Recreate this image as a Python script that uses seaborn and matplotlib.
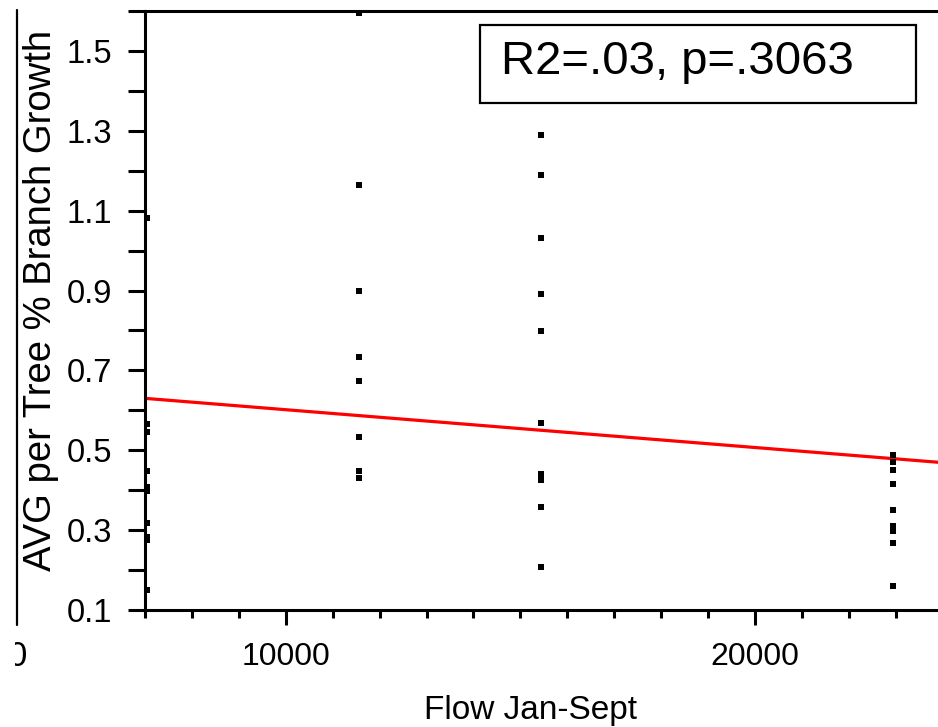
import matplotlib
matplotlib.use("Agg")
import matplotlib.pyplot as plt
import seaborn as sns
import pandas as pd
import numpy as np
from matplotlib.lines import Line2D
from matplotlib.patches import Rectangle
from matplotlib.transforms import Bbox, TransformedBbox
from matplotlib.ticker import MultipleLocator, FixedLocator

# ---- data ----
flow_col1 = 7040
flow_col2 = 11556
flow_col3 = 15437
flow_col4 = 22950
growth_col1 = [1.081, 0.567, 0.546, 0.448, 0.409, 0.398, 0.319, 0.283, 0.275, 0.151]
growth_col2 = [1.596, 1.164, 0.899, 0.734, 0.674, 0.533, 0.447, 0.430]
growth_col3 = [1.290, 1.189, 1.032, 0.891, 0.799, 0.568, 0.440, 0.425, 0.358, 0.208]
growth_col4 = [0.487, 0.471, 0.451, 0.416, 0.350, 0.310, 0.299, 0.267, 0.159]
fit_x = [7000, 23900]
fit_y = [0.630, 0.470]
stat_text = "R2=.03, p=.3063"
x_label = "Flow Jan-Sept"
y_label = "AVG per Tree % Branch Growth"
y_tick_values = [0.1, 0.3, 0.5, 0.7, 0.9, 1.1, 1.3, 1.5]
x_tick_values = [10000, 20000]

flows = ([flow_col1] * len(growth_col1) + [flow_col2] * len(growth_col2)
         + [flow_col3] * len(growth_col3) + [flow_col4] * len(growth_col4))
growth = growth_col1 + growth_col2 + growth_col3 + growth_col4
df = pd.DataFrame({"flow": flows, "growth": growth})
fit_df = pd.DataFrame({"flow": fit_x, "growth": fit_y})

sns.set_theme(style="white")
plt.rcParams["font.family"] = ["Liberation Sans", "DejaVu Sans"]
for key in ["text.color", "axes.labelcolor", "xtick.color", "ytick.color",
            "axes.edgecolor", "xtick.labelcolor", "ytick.labelcolor"]:
    plt.rcParams[key] = "black"

W, H = 938, 727
fig = plt.figure(figsize=(W / 100, H / 100), dpi=100)
ax = fig.add_axes([145 / W, 1 - 610 / H, 1 - 145 / W, (610 - 11) / H])

sns.lineplot(data=fit_df, x="flow", y="growth", ax=ax, color="#ff0000",
             linewidth=2.3, zorder=2)
sns.scatterplot(data=df, x="flow", y="growth", ax=ax, marker="s", s=18,
                color="black", linewidth=0, zorder=3, clip_on=False)

ax.set_xlim(7000, 23900)
ax.set_ylim(0.1, 1.6)

ax.xaxis.set_major_locator(FixedLocator(x_tick_values))
ax.xaxis.set_minor_locator(MultipleLocator(1000))
ax.yaxis.set_major_locator(FixedLocator(y_tick_values))
ax.yaxis.set_minor_locator(FixedLocator([0.2, 0.4, 0.6, 0.8, 1.0, 1.2, 1.4, 1.6]))
ax.set_yticklabels([f"{v:.1f}" for v in y_tick_values])
ax.set_xticklabels([str(v) for v in x_tick_values])

for side in ["left", "bottom", "top"]:
    ax.spines[side].set_visible(True)
    ax.spines[side].set_linewidth(2.2)
    ax.spines[side].set_color("black")
ax.spines["right"].set_visible(False)

ax.tick_params(axis="y", which="both", direction="out", length=12.5, width=2.2,
               color="black", labelcolor="black", left=True, labelsize=23.5, pad=11)
ax.tick_params(axis="x", which="major", direction="out", length=11, width=2.2,
               color="black", labelcolor="black", bottom=True, labelsize=23, pad=12)
ax.tick_params(axis="x", which="minor", direction="out", length=6, width=2.2,
               color="black", bottom=True)

ax.set_xlabel("")
ax.set_ylabel("")
fig.text(530 / W, 1 - 710 / H, x_label, ha="center", va="center", fontsize=24,
         color="black")
fig.text(41 / W, 1 - 300 / H, y_label, ha="center", va="center", fontsize=27.5,
         rotation=90, color="black")

# statistic box
fig.add_artist(Rectangle((480 / W, 1 - 103 / H), (916 - 480) / W, (103 - 25) / H,
                         transform=fig.transFigure, fill=False,
                         edgecolor="black", linewidth=1.6))
fig.text(677 / W, 1 - 62 / H, stat_text, ha="center", va="center", fontsize=34,
         color="black")

# fragments of the neighbouring frame at the left edge
fig.add_artist(Line2D([17 / W, 17 / W], [1 - 10 / H, 1 - 625 / H],
                      transform=fig.transFigure, color="black", linewidth=1.6))
t = fig.text(27 / W, 1 - 656 / H, "0", ha="right", va="center", fontsize=25,
             color="black")
t.set_clip_on(True)
t.set_clip_box(TransformedBbox(Bbox.from_extents(15 / W, 0, 1, 1), fig.transFigure))

fig.savefig("out.png", dpi=100)
